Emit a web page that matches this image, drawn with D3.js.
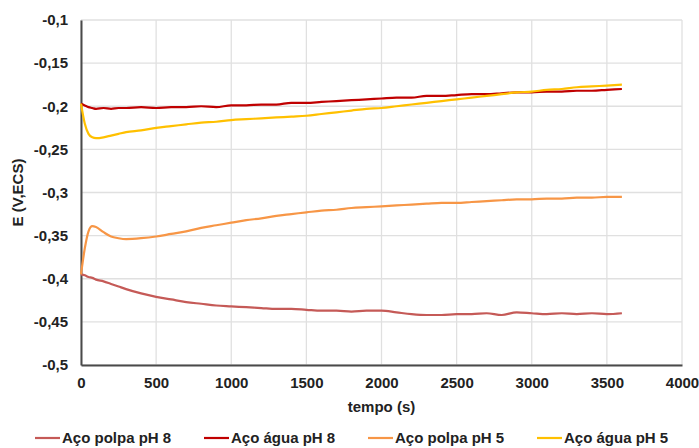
<!DOCTYPE html>
<html>
<head>
<meta charset="utf-8">
<script src="https://cdn.jsdelivr.net/npm/d3@7"></script>
<style>
  body { margin: 0; background: #fff; }
  text { font-family: "Liberation Sans", Arial, sans-serif; font-weight: bold; fill: #222; }
</style>
</head>
<body>
<div id="chart"></div>
<script>
// tempo (s)
var tempo = [0, 25, 50, 75, 100, 150, 200, 250, 300, 400, 500, 600, 700, 800, 900,
  1000, 1100, 1200, 1300, 1400, 1500, 1600, 1700, 1800, 1900, 2000, 2100, 2200, 2300,
  2400, 2500, 2600, 2700, 2800, 2900, 3000, 3100, 3200, 3300, 3400, 3500, 3600];

var polpaPH8 = [-0.395, -0.396, -0.398, -0.399, -0.401, -0.403, -0.406, -0.409, -0.412, -0.417,
  -0.421, -0.424, -0.427, -0.429, -0.431, -0.432, -0.433, -0.434, -0.435, -0.435, -0.436,
  -0.437, -0.437, -0.438, -0.437, -0.437, -0.439, -0.441, -0.442, -0.442, -0.441, -0.441,
  -0.440, -0.442, -0.439, -0.440, -0.441, -0.440, -0.441, -0.440, -0.441, -0.440];

var aguaPH8 = [-0.197, -0.199, -0.201, -0.202, -0.203, -0.202, -0.203, -0.202, -0.202, -0.201,
  -0.202, -0.201, -0.201, -0.200, -0.201, -0.199, -0.199, -0.198, -0.198, -0.196, -0.196,
  -0.195, -0.194, -0.193, -0.192, -0.191, -0.190, -0.190, -0.188, -0.188, -0.187, -0.186,
  -0.186, -0.185, -0.184, -0.184, -0.183, -0.183, -0.182, -0.182, -0.181, -0.180];

var polpaPH5 = [-0.395, -0.365, -0.345, -0.339, -0.340, -0.346, -0.351, -0.353, -0.354, -0.353,
  -0.351, -0.348, -0.345, -0.341, -0.338, -0.335, -0.332, -0.330, -0.327, -0.325, -0.323,
  -0.321, -0.320, -0.318, -0.317, -0.316, -0.315, -0.314, -0.313, -0.312, -0.312, -0.311,
  -0.310, -0.309, -0.308, -0.308, -0.307, -0.307, -0.306, -0.306, -0.305, -0.305];

var aguaPH5 = [-0.197, -0.220, -0.232, -0.236, -0.237, -0.236, -0.234, -0.232, -0.230, -0.228,
  -0.225, -0.223, -0.221, -0.219, -0.218, -0.216, -0.215, -0.214, -0.213, -0.212, -0.211,
  -0.209, -0.207, -0.205, -0.203, -0.202, -0.200, -0.198, -0.196, -0.194, -0.192, -0.190,
  -0.188, -0.186, -0.184, -0.183, -0.181, -0.180, -0.178, -0.177, -0.176, -0.175];

var seriesNames = ["Aço polpa pH 8", "Aço água pH 8", "Aço polpa pH 5", "Aço água pH 5"];
var seriesValues = [polpaPH8, aguaPH8, polpaPH5, aguaPH5];
var seriesColors = ["#c55a57", "#c00000", "#f79646", "#ffc000"];

var xTicks = [0, 500, 1000, 1500, 2000, 2500, 3000, 3500, 4000];
var yTicks = [-0.1, -0.15, -0.2, -0.25, -0.3, -0.35, -0.4, -0.45, -0.5];

var W = 699, H = 448;
var svg = d3.select("#chart").append("svg")
  .attr("width", W)
  .attr("height", H);

var x = d3.scaleLinear().domain([0, 4000]).range([81, 682]);
var y = d3.scaleLinear().domain([-0.5, -0.1]).range([365, 20]);

var fmt = function(v) { return String(+v.toFixed(2)).replace(".", ","); };

// grid
svg.append("g").selectAll("line.h")
  .data(yTicks)
  .enter().append("line")
  .attr("x1", x(0)).attr("x2", x(4000))
  .attr("y1", function(d){ return y(d); })
  .attr("y2", function(d){ return y(d); })
  .attr("stroke", "#e0e0e0")
  .attr("stroke-width", 1.3);

svg.append("g").selectAll("line.v")
  .data(xTicks)
  .enter().append("line")
  .attr("x1", function(d){ return x(d); })
  .attr("x2", function(d){ return x(d); })
  .attr("y1", y(-0.1)).attr("y2", y(-0.5))
  .attr("stroke", "#e0e0e0")
  .attr("stroke-width", 1.3);

// axes
var yAxis = svg.append("g")
  .attr("transform", "translate(" + x(0) + ",0)")
  .call(d3.axisLeft(y).tickValues(yTicks).tickFormat(fmt).tickSize(0).tickPadding(13));

var xAxis = svg.append("g")
  .attr("transform", "translate(0," + y(-0.5) + ")")
  .call(d3.axisBottom(x).tickValues(xTicks).tickFormat(d3.format("d")).tickSize(0).tickPadding(12));

[yAxis, xAxis].forEach(function(a){
  a.select(".domain").attr("stroke", "#4a4a4a").attr("stroke-width", 2);
  a.selectAll("text").style("font-size", "15px").attr("fill", "#222");
});

// lines
var line = d3.line()
  .x(function(d, i){ return x(tempo[i]); })
  .y(function(d){ return y(d); })
  .curve(d3.curveMonotoneX);

seriesValues.forEach(function(vals, k){
  svg.append("path")
    .attr("d", line(vals))
    .attr("fill", "none")
    .attr("stroke", seriesColors[k])
    .attr("stroke-width", 2.2);
});

// axis titles
svg.append("text")
  .attr("x", (x(0) + x(4000)) / 2)
  .attr("y", 412)
  .attr("text-anchor", "middle")
  .style("font-size", "15px")
  .text("tempo (s)");

svg.append("text")
  .attr("transform", "translate(23," + (y(-0.3)) + ") rotate(-90)")
  .attr("text-anchor", "middle")
  .style("font-size", "15px")
  .text("E (V,ECS)");

// legend
var legX = [35, 204, 368, 537];
var leg = svg.append("g").selectAll("g")
  .data(seriesNames)
  .enter().append("g")
  .attr("transform", function(d, i){ return "translate(" + legX[i] + ",438)"; });

leg.append("line")
  .attr("x1", 0).attr("x2", 25)
  .attr("stroke", function(d, i){ return seriesColors[i]; })
  .attr("stroke-width", 2.2);

leg.append("text")
  .attr("x", 27)
  .attr("y", 5)
  .style("font-size", "15px")
  .text(function(d){ return d; });
</script>
</body>
</html>
